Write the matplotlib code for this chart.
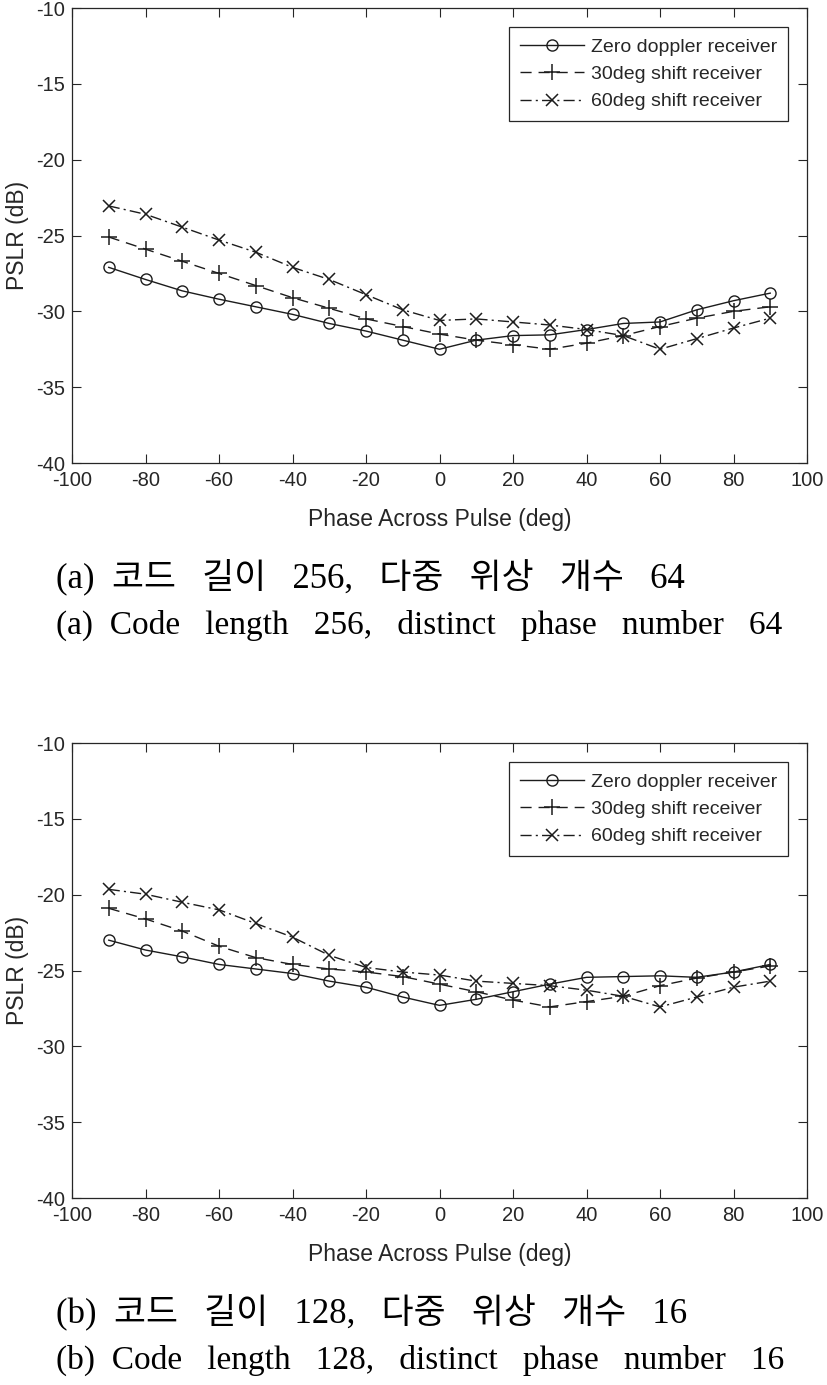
import matplotlib
matplotlib.use("Agg")
import matplotlib.pyplot as plt # For plotting

plt.rcParams['axes.unicode_minus'] = False # Plain hyphen minus like the reference

# Phase across pulse (deg)
phase = [-90, -80, -70, -60, -50, -40, -30, -20, -10, 0, 10, 20, 30, 40, 50, 60, 70, 80, 90]

# (a) code length 256, 64 phases
zero_a = [-27.1, -27.9, -28.65, -29.2, -29.7, -30.2, -30.8, -31.3, -31.9, -32.5,
          -31.9, -31.6, -31.55, -31.2, -30.8, -30.7, -29.9, -29.3, -28.8]
shift30_a = [-25.1, -25.9, -26.7, -27.5, -28.3, -29.1, -29.8, -30.5, -31.0, -31.5,
             -31.9, -32.2, -32.5, -32.1, -31.6, -31.0, -30.45, -30.0, -29.7]
shift60_a = [-23.05, -23.6, -24.45, -25.3, -26.1, -27.1, -27.9, -28.9, -29.9, -30.6,
             -30.5, -30.7, -30.9, -31.2, -31.6, -32.5, -31.8, -31.1, -30.45]

# (b) code length 128, 16 phases
zero_b = [-23.0, -23.65, -24.1, -24.6, -24.9, -25.2, -25.7, -26.1, -26.75, -27.3,
          -26.9, -26.4, -25.9, -25.45, -25.4, -25.35, -25.45, -25.1, -24.6]
shift30_b = [-20.9, -21.6, -22.4, -23.4, -24.15, -24.6, -24.9, -25.1, -25.4, -25.9,
             -26.4, -26.95, -27.4, -27.05, -26.7, -26.0, -25.5, -25.1, -24.7]
shift60_b = [-19.65, -19.97, -20.5, -21.0, -21.9, -22.8, -24.0, -24.8, -25.1, -25.3,
             -25.7, -25.85, -26.0, -26.3, -26.7, -27.4, -26.75, -26.1, -25.7]

labels = ["Zero doppler receiver", "30deg shift receiver", "60deg shift receiver"]
captions_kr = ["(a)  코드   길이   256,   다중   위상   개수   64",
               "(b)  코드   길이   128,   다중   위상   개수   16"]
captions_en = ["(a)  Code   length   256,   distinct   phase   number   64",
               "(b)  Code   length   128,   distinct   phase   number   16"]
xticks = list(range(-100, 101, 20))
yticks = list(range(-40, -9, 5))

LINE_COLOR = "#1c1c1c" # Line / marker color
AXIS_COLOR = "#262626" # Axis and tick label color
SANS = "Liberation Sans"

fig = plt.figure(figsize=(8.27, 13.85), dpi=100) # Create figure
W, H = 827.0, 1385.0
panels = [(8, zero_a, shift30_a, shift60_a), (743, zero_b, shift30_b, shift60_b)]

for i, (top, zero, s30, s60) in enumerate(panels):
    ax = fig.add_axes([72 / W, 1 - (top + 455) / H, 735 / W, 455 / H])
    ax.plot(phase, zero, color=LINE_COLOR, lw=1.0, ls="-", marker="o", ms=8,
            mfc="none", mew=1.0, label=labels[0])
    ax.plot(phase, s30, color=LINE_COLOR, lw=1.0, ls=(0, (8, 5)), marker="+", ms=11,
            mew=1.1, label=labels[1])
    ax.plot(phase, s60, color=LINE_COLOR, lw=1.0, ls=(0, (8, 3, 1.5, 3)), marker="x",
            ms=8, mew=1.1, label=labels[2])
    ax.set_xlim(-100, 100)
    ax.set_ylim(-40, -10)
    ax.set_xticks(xticks)
    ax.set_yticks(yticks)
    ax.tick_params(direction="in", top=True, right=True, length=6.5, width=0.8,
                   color=AXIS_COLOR, labelcolor=AXIS_COLOR, labelsize=14.5)
    ax.tick_params(axis="x", pad=6)
    ax.tick_params(axis="y", pad=5)
    for lab in ax.get_xticklabels() + ax.get_yticklabels():
        lab.set_family(SANS)
    for sp in ax.spines.values():
        sp.set_color(AXIS_COLOR)
        sp.set_linewidth(0.9)
    ax.set_xlabel("Phase Across Pulse (deg)", fontsize=16.5, family=SANS, color=AXIS_COLOR)
    ax.set_ylabel("PSLR (dB)", fontsize=16.5, family=SANS, color=AXIS_COLOR)
    ax.xaxis.set_label_coords(0.5, -0.098)
    ax.yaxis.set_label_coords(-0.058, 0.5)
    leg = ax.legend(loc="upper right", prop={"family": SANS, "size": 14},
                    handlelength=3.3, handletextpad=0.35, labelspacing=0.5,
                    borderpad=0.55, borderaxespad=1.0, fancybox=False, framealpha=1)
    leg.get_frame().set_edgecolor(AXIS_COLOR)
    leg.get_frame().set_linewidth(0.9)
    for t in leg.get_texts():
        t.set_color(AXIS_COLOR)
    # Captions under each panel
    fig.text(56 / W, 1 - (top + 569) / H, captions_kr[i], fontsize=25, va="center", ha="left",
             family=["Liberation Serif", "Noto Sans CJK KR"], color="black")
    fig.text(56 / W, 1 - (top + 617) / H, captions_en[i], fontsize=24, va="center", ha="left",
             family=["Liberation Serif", "Noto Sans CJK KR"], color="black")

fig.savefig("out.png", dpi=100) # Save figure
